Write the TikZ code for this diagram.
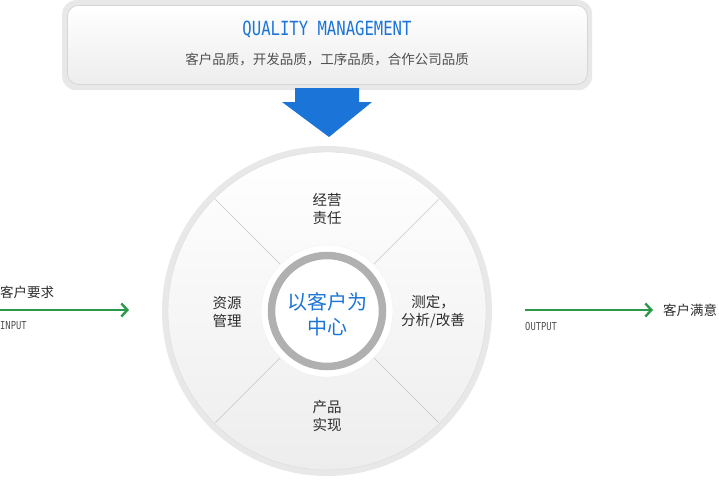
\documentclass[tikz,border=0pt]{standalone}
\usepackage{fontspec}
\usetikzlibrary{calc,arrows.meta}
\setmainfont{Liberation Sans}
\newfontfamily\cjk{Noto Sans CJK SC}
\newfontfamily\condmono[FakeStretch=0.8]{DejaVu Sans Mono}
\definecolor{qblue}{HTML}{1B75D8}
\definecolor{qgreen}{HTML}{2A9A48}
\definecolor{qtext}{HTML}{2E2E2E}
\definecolor{qgray}{HTML}{505050}
\begin{document}
\begin{tikzpicture}[x=1pt,y=-1pt,
  lbl/.style={font=\cjk\fontsize{14.5}{18}\selectfont, text=qtext, align=center, inner sep=0pt},
  side/.style={font=\cjk\fontsize{13.5}{16}\selectfont, text=qtext, inner sep=0pt},
  tag/.style={font=\condmono\fontsize{11}{12}\selectfont, text=qgray, inner sep=0pt},
  garrow/.style={draw=qgreen, line width=2.6pt, -{Straight Barb[length=6pt,width=13pt,line width=2.4pt]}},
  divider/.style={draw=gray!45, line width=0.4pt}]
\useasboundingbox (0,0) rectangle (719,479);
% top box
\node[draw=none, fill=black!9, rounded corners=14pt, minimum width=530pt, minimum height=90pt, anchor=north west] (outerbox) at (62,0) {};
\node[draw=black!16, line width=0.8pt, top color=white, bottom color=black!7, rounded corners=11pt, minimum width=520pt, minimum height=79pt, anchor=north west] (box) at (67,5) {};
\node[font=\condmono\fontsize{19.5}{20}\selectfont, text=qblue, inner sep=0pt] (title) at (327,30) {QUALITY MANAGEMENT};
\node[font=\cjk\fontsize{13.5}{16}\selectfont, text=qgray, inner sep=0pt] (sub) at (327,59) {客户品质，开发品质，工序品质，合作公司品质};
% blue arrow
\fill[qblue] (295,88) -- (359,88) -- (359,102) -- (372,102) -- (329,137) -- (282,102) -- (295,102) -- cycle;
% big circle
\coordinate (c) at (327,311);
\fill[black!9] (c) circle[radius=165];
\shade[top color=white, bottom color=black!7, draw=black!14] (c) circle[radius=159];
% dividers
\draw[divider] ($(c)+(45:59)$) -- ($(c)+(45:158)$);
\draw[divider] ($(c)+(135:59)$) -- ($(c)+(135:158)$);
\draw[divider] ($(c)+(-45:59)$) -- ($(c)+(-45:158)$);
\draw[divider] ($(c)+(-135:59)$) -- ($(c)+(-135:158)$);
% inner circle
\fill[white, draw=black!6] (c) circle[radius=66];
\draw[black!31, line width=7.5pt, fill=white] (c) circle[radius=55.5];
\node[font=\cjk\fontsize{20}{25}\selectfont, text=qblue, align=center, inner sep=0pt] (center) at (327,314) {以客户为\\中心};
% labels
\node[lbl] (top) at (327,209) {经营\\责任};
\node[lbl] (left) at (227,312) {资源\\管理};
\node[lbl] (right) at (433,312) {测定，\\分析/改善};
\node[lbl] (bottom) at (327,416) {产品\\实现};
% input / output
\coordinate (inA) at (0,310);
\coordinate (inB) at (129,310);
\draw[garrow] (inA) -- (inB);
\node[side, anchor=west] (req) at (0,292) {客户要求};
\node[tag, anchor=west] (input) at (0,326) {INPUT};
\coordinate (outA) at (525,310);
\coordinate (outB) at (653,310);
\draw[garrow] (outA) -- (outB);
\node[side, anchor=west] (sat) at (663,310) {客户满意};
\node[tag, anchor=west] (output) at (525,326) {OUTPUT};
\end{tikzpicture}
\end{document}
